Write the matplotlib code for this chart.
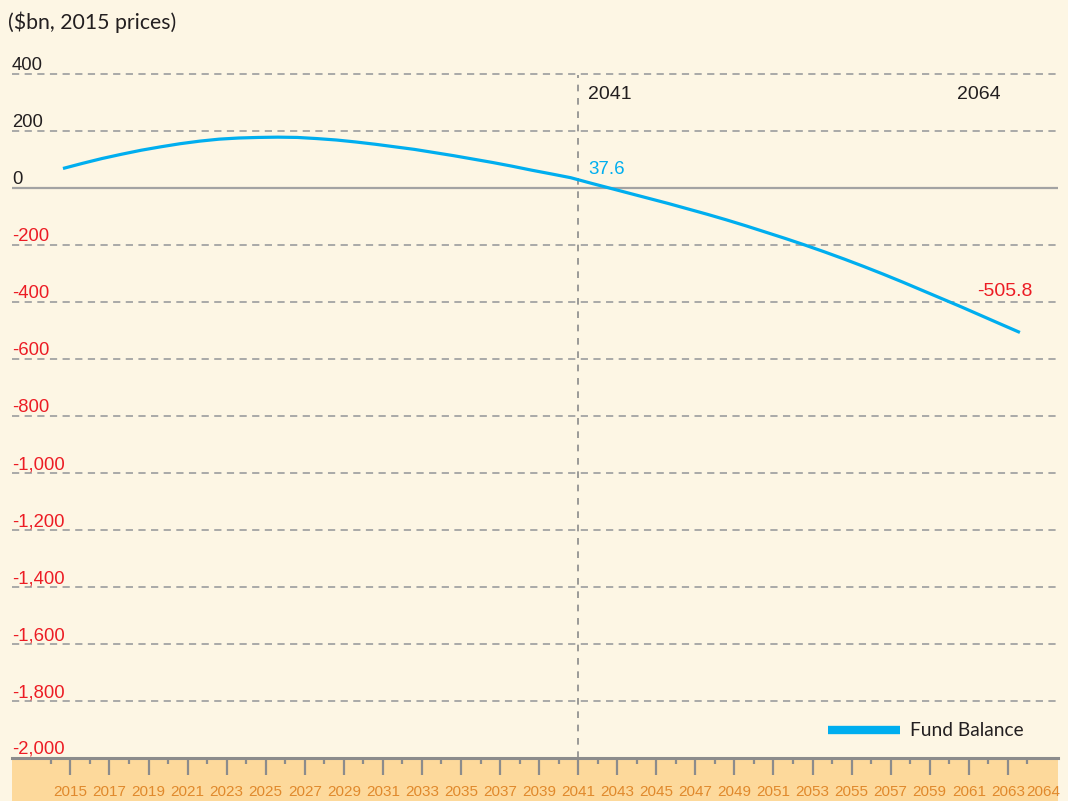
import matplotlib
matplotlib.use("Agg")
import matplotlib.pyplot as plt
from matplotlib.patches import Rectangle
import matplotlib.transforms as mtransforms

# ---------------- data ----------------
years = list(range(2015, 2065))
fund_balance = [70, 88, 105, 120, 134, 146, 157, 166, 173, 177,
                179, 180, 179, 175, 170, 163, 155, 146, 137, 126,
                115, 103, 91, 78, 64, 51, 37.6, 19, 1, -17,
                -35, -53, -72, -91, -111, -132, -154, -176, -199, -223,
                -248, -274, -301, -329, -358, -387, -416, -446, -476, -505.8]
y_ticks = [400, 200, 0, -200, -400, -600, -800, -1000, -1200, -1400,
           -1600, -1800, -2000]
y_tick_labels = ["400", "200", "0", "-200", "-400", "-600", "-800", "-1,000",
                 "-1,200", "-1,400", "-1,600", "-1,800", "-2,000"]
major_years = list(range(2015, 2064, 2))
minor_years = list(range(2014, 2065, 2))
marker_year = 2041
end_year = 2064
marker_value = 37.6
end_value = -505.8
series_name = "Fund Balance"
unit_label = "($bn, 2015 prices)"

# ---------------- style ----------------
BG = "#fdf6e4"
BAND = "#fdd99b"
BLUE = "#00aeef"
RED = "#ec1c24"
DARK = "#231f20"
GRID = "#a3a3a3"
AXIS = "#8c8c8c"
TICKLAB = "#e0892c"
SHIFT = 0.38  # tick marks sit slightly right of the data points
SANS = ["Liberation Sans", "DejaVu Sans"]
HUMAN = ["Lato", "DejaVu Sans"]

W, H = 1068, 801
fig = plt.figure(figsize=(W / 100, H / 100), dpi=100, facecolor=BG)

ax_left, ax_right = 12, 1058
ax_top, ax_bottom = 74.5, 758
ax = fig.add_axes([ax_left / W, (H - ax_bottom) / H,
                   (ax_right - ax_left) / W, (ax_bottom - ax_top) / H])
ax.set_facecolor(BG)
ax.set_zorder(2)

# bottom band
fig.patches.append(Rectangle((ax_left / W, 0), (ax_right - ax_left) / W,
                             (H - ax_bottom) / H, transform=fig.transFigure,
                             facecolor=BAND, edgecolor="none", zorder=-5))

ax.set_xlim(2012.39, 2065.95)
ax.set_ylim(-2000, 400)

for s in ["top", "right", "left"]:
    ax.spines[s].set_visible(False)
ax.spines["bottom"].set_color(AXIS)
ax.spines["bottom"].set_linewidth(2.2)

# gridlines
for v in y_ticks:
    if v == 0:
        ax.axhline(v, color=GRID, lw=1.6, zorder=1)
    elif v == -2000:
        continue
    else:
        ax.axhline(v, color=GRID, lw=1.3, ls=(0, (4, 3)), zorder=1,
                   clip_on=False)

# y labels (above gridlines)
ytrans = mtransforms.blended_transform_factory(ax.transAxes, ax.transData)
for v, lab in zip(y_ticks, y_tick_labels):
    ax.annotate(lab, xy=(0, v), xycoords=ytrans, xytext=(0, 4),
                textcoords="offset pixels", ha="left", va="baseline",
                fontsize=13.3, family=SANS,
                color=RED if v < 0 else DARK, annotation_clip=False)
ax.set_yticks([])

# x ticks
ax.set_xticks([y + SHIFT for y in major_years])
ax.set_xticklabels([str(y) for y in major_years],
                   fontsize=11, color=TICKLAB, family=SANS)
ax.set_xticks([y + SHIFT for y in minor_years if y not in major_years], minor=True)
ax.tick_params(axis="x", which="major", length=12.5, width=1.6, color=AXIS,
               direction="out", pad=7)
ax.tick_params(axis="x", which="minor", length=4, width=1.6, color=AXIS,
               direction="out")
xtrans = mtransforms.blended_transform_factory(ax.transData, ax.transAxes)
ax.annotate(str(end_year), xy=(end_year + SHIFT, 0), xycoords=xtrans,
            xytext=(-1, -26.5), textcoords="offset pixels", ha="left", va="top",
            fontsize=11, color=TICKLAB, family=SANS,
            annotation_clip=False)

# vertical marker line
ax.axvline(marker_year + SHIFT, color="#8a8a8a", lw=1.2, ls=(0, (4, 4)), zorder=1)

# series
line, = ax.plot(years, fund_balance, color=BLUE, lw=2.3, zorder=3,
                solid_capstyle="butt", label=series_name)

# annotations
ax.annotate(str(marker_year), xy=(marker_year + SHIFT, 400), xytext=(10, -24.5),
            textcoords="offset pixels", ha="left", va="baseline", fontsize=14,
            color=DARK, family=SANS)
ax.annotate(str(end_year), xy=(end_year, 400), xytext=(-63, -24.5),
            textcoords="offset pixels", ha="left", va="baseline", fontsize=14,
            color=DARK, family=SANS)
ax.annotate(f"{marker_value}", xy=(marker_year + SHIFT, marker_value),
            xytext=(10, 3.5), textcoords="offset pixels", ha="left",
            va="baseline", fontsize=13.5, color=BLUE, family=SANS)
ax.annotate(f"{end_value}", xy=(end_year, end_value), xytext=(-43, 36),
            textcoords="offset pixels", ha="left", va="baseline", fontsize=14,
            color=RED, family=SANS)

# unit label
fig.text(8 / W, 1 - 22 / H, unit_label, ha="left", va="center", fontsize=15.3,
         color=DARK, family=HUMAN)

# legend
fs = 13.8
fs_px = fs * 100 / 72
leg = ax.legend(handles=[line], loc="center left",
                bbox_to_anchor=(828 / W, (H - 731) / H),
                bbox_transform=fig.transFigure, frameon=False,
                handlelength=72 / fs_px, handletextpad=10 / fs_px,
                borderpad=0, borderaxespad=0,
                prop={"family": HUMAN, "size": fs})
for t in leg.get_texts():
    t.set_color(DARK)
leg.get_lines()[0].set_linewidth(6)

fig.savefig("out.png", dpi=100, facecolor=BG)
